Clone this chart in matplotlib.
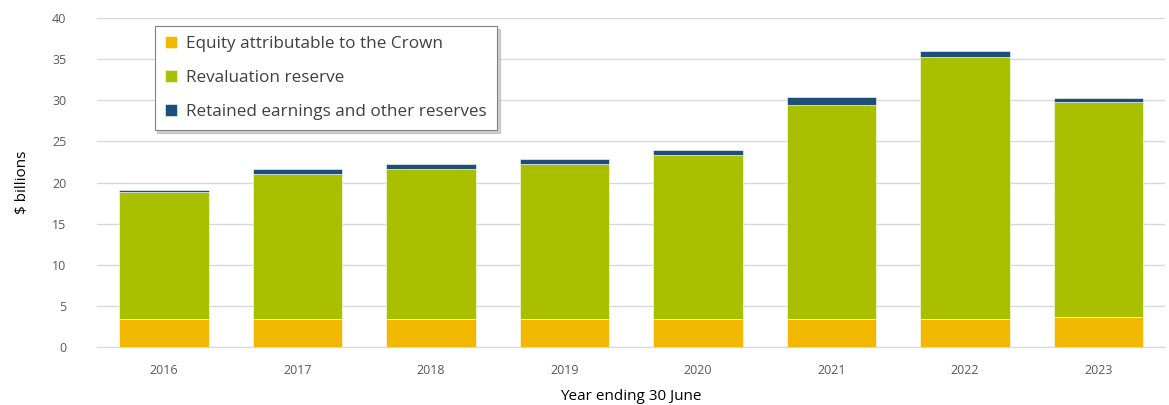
import numpy as np
import matplotlib.pyplot as plt

years = ['2016', '2017', '2018', '2019', '2020', '2021', '2022', '2023']
equity_crown = [3.4, 3.4, 3.4, 3.4, 3.4, 3.4, 3.4, 3.7]
revaluation = [15.5, 17.6, 18.3, 18.8, 19.9, 26.0, 31.9, 26.1]
retained = [0.2, 0.6, 0.5, 0.6, 0.6, 0.95, 0.7, 0.5]

labels = ['Equity attributable to the Crown', 'Revaluation reserve',
          'Retained earnings and other reserves']
colors = ['#F2B800', '#A9C000', '#1F4E79']

plt.rcParams['font.family'] = ['Open Sans', 'DejaVu Sans']

fig = plt.figure(figsize=(11.69, 4.05), dpi=100)
ax = fig.add_axes([0.083, 0.143, 0.9137, 0.8127])

x = np.arange(len(years))
width = 0.67
bottom = np.zeros(len(years))
for vals, lab, col in zip([equity_crown, revaluation, retained], labels, colors):
    ax.bar(x, vals, width, bottom=bottom, color=col, label=lab,
           edgecolor='white', linewidth=0.4, zorder=3)
    bottom += np.array(vals)

ax.set_xlim(-0.5, len(years) - 0.5)
ax.set_ylim(0, 40)
ax.set_yticks(range(0, 41, 5))
ax.set_xticks(x)
ax.set_xticklabels(years)
ax.grid(axis='y', color='#D9D9D9', linewidth=1, zorder=0)
for s in ['top', 'right', 'left']:
    ax.spines[s].set_visible(False)
ax.spines['bottom'].set_color('#D9D9D9')
ax.tick_params(axis='both', length=0, labelsize=9, colors='#595959')
ax.tick_params(axis='x', pad=12)
ax.tick_params(axis='y', pad=22)

ax.set_ylabel('$ billions', fontsize=11, color='#000000', labelpad=16)
ax.set_xlabel('Year ending 30 June', fontsize=11, color='#000000', labelpad=9)

leg = ax.legend(loc='upper left', bbox_to_anchor=(0.054, 0.976), fontsize=12.3,
                frameon=True, fancybox=False, shadow={'color': '#B0B0B0', 'alpha': 0.6},
                borderaxespad=0,
                handlelength=0.7, handleheight=0.7, labelspacing=1.05,
                borderpad=0.6, handletextpad=0.55)
leg.get_frame().set_edgecolor('#808080')
leg.get_frame().set_linewidth(0.8)
for t in leg.get_texts():
    t.set_color('#404040')

fig.savefig('out.png', dpi=100)
